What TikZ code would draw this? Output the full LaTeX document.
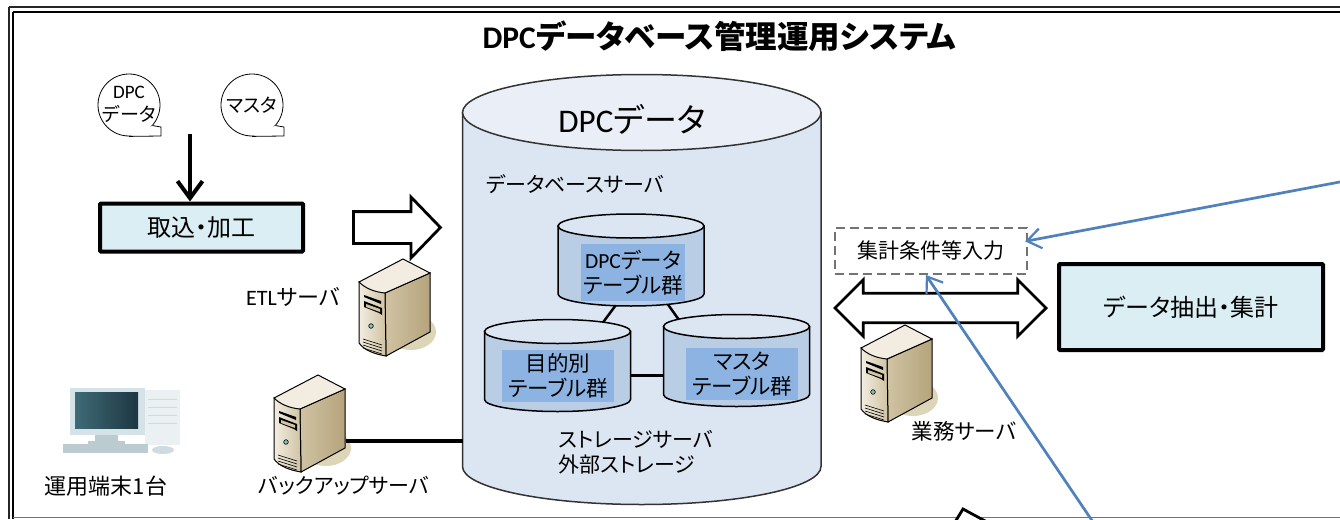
\documentclass[tikz,border=0pt]{standalone}
\usepackage{fontspec}
\setmainfont{Noto Sans CJK JP}[RawFeature={+palt}]
\newfontfamily\latn{Carlito}
\usetikzlibrary{positioning,calc,arrows.meta,shapes.arrows}

\definecolor{boxfill}{HTML}{DAEEF3}
\definecolor{dbbody}{HTML}{DCE6F2}
\definecolor{dbend}{HTML}{E9EEF7}
\definecolor{tblbody}{HTML}{B9CDE5}
\definecolor{tblend}{HTML}{DCE6F2}
\definecolor{tbllabel}{HTML}{8DB3E2}
\definecolor{linkblue}{HTML}{4F81BD}
\definecolor{srvshadow}{HTML}{DDD5B8}
\definecolor{srvpale}{HTML}{F2EDE0}
\definecolor{srvmid}{HTML}{D0C3A3}
\definecolor{srvdark}{HTML}{B5A47C}
\definecolor{pcframe}{HTML}{D5E3E8}
\definecolor{pctower}{HTML}{EBF1F3}
\definecolor{pcline}{HTML}{CFDBE0}
\definecolor{pcscreenA}{HTML}{3E6B76}
\definecolor{pcscreenB}{HTML}{1D3742}
\definecolor{pckeys}{HTML}{BCCBD0}

\newcommand{\dpc}{{\latn DPC}}
\newcommand{\tapetail}[1]{\draw[fill=white,line width=.8pt] (#1.-41) -- ($(#1.center)+(32,22)$) -- ($(#1.center)+(32,31)$) -- (#1.south);}
% name, x radius, y radius, body, end, line
\newcommand{\drum}[6]{
  \draw[#6,fill=#4] ($(#1.north west)+(0,#3)$) -- ($(#1.south west)+(0,-#3)$)
    arc[start angle=180,end angle=0,x radius=#2,y radius=#3] -- ($(#1.north east)+(0,#3)$) -- cycle;
  \draw[#6,fill=#5] ($(#1.north)+(0,#3)$) ellipse [x radius=#2,y radius=#3];
}

\tikzset{
  txt/.style={inner sep=0pt,font=\fontsize{21}{25}\selectfont,align=center},
  doctxt/.style={inner sep=0pt,align=center,font=\fontsize{19}{23}\selectfont},
  procbox/.style={draw,line width=4pt,fill=boxfill,rounded corners=1pt,inner sep=0pt,font=\fontsize{24}{28}\selectfont},
  tape/.style={circle,draw,line width=.8pt,fill=white,minimum size=62pt,inner sep=0pt},
  drumbase/.style={inner sep=0pt,outer sep=0pt,minimum width=146pt,minimum height=92pt},
  tbltxt/.style={fill=tbllabel,inner sep=0pt,align=center,font=\fontsize{21.5}{25}\selectfont},
  tbllink/.style={line width=2.5pt},
  wide/.style={draw,fill=white,inner sep=0pt,line width=2.8pt},
  bluelink/.style={draw=linkblue,line width=2.7pt,-{Straight Barb[length=14pt,width=20pt,line width=2.2pt]}},
  server/.pic={
    \fill[srvshadow] (52,50) ellipse (25 and 18);
    \draw[line width=1pt,left color=srvmid,middle color=srvpale,right color=srvdark] (26,11) -- (71,-9) -- (71,50) -- (27,74) -- cycle;
    \draw[line width=1pt,left color=srvpale,right color=srvmid] (0,0) -- (26,11) -- (27,74) .. controls (15,72) and (5,68) .. (0,61) -- cycle;
    \draw[line width=1pt,fill=srvpale] (0,0) -- (44,-23) -- (71,-9) -- (26,11) .. controls (15,10) and (6,6) .. (0,0) -- cycle;
    \fill (5,13) -- (22,19) -- (22,22) -- (5,15) -- cycle;
    \fill (5,19) -- (23,26) -- (23,33) -- (20,31) -- (5,25) -- cycle;
    \fill[srvmid] (7,22) -- (21,27) -- (21,30) -- (7,25) -- cycle;
    \draw[fill=teal!50!white,line width=.6pt] (12,44) circle (2.3);
    \foreach \v in {57,60,63,66}
      \draw[line width=.6pt] (4,\v) -- (23,{\v+6});
  }
}

\begin{document}
\begin{tikzpicture}[x=1pt,y=-1pt]
  \clip (0,0) rectangle (1340,519);
  \path[fill=white] (0,0) rectangle (1340,519);

  % outer frame
  \draw[black!85,line width=2pt] (9,7) -- (1400,7) (9,7) -- (9,519);
  \draw[line width=2pt] (13,12) -- (1400,12) (13,12) -- (13,519);
  \draw[black!55,line width=1pt] (13,517.5) -- (1340,517.5);
  \node (title) [inner sep=0pt,font=\fontsize{31.5}{36}\selectfont\bfseries] at (719.5,36) {{\latn\bfseries DPC}データベース管理運用システム};

  % source documents
  \node (dpcdoc) [tape] at (129,105) {};
  \tapetail{dpcdoc}
  \node (dpcdoctxt) [doctxt] at (129,104) {\dpc\\データ};
  \node (mstdoc) [tape] at (252,105) {};
  \tapetail{mstdoc}
  \node (mstdoctxt) [doctxt] at (252,105) {マスタ};

  % intake
  \node (intake) [procbox,minimum width=203pt,minimum height=48pt] at (201.5,227.5) {取込・加工};
  \coordinate (feed) at (190,134);
  \draw[line width=4.5pt,-{Straight Barb[length=17pt,width=25pt,line width=4pt]}] (feed) -- (feed |- intake.north);
  \node (toDb) [wide,single arrow,anchor=west,inner ysep=14.5pt,minimum height=87pt,single arrow head extend=14.5pt,single arrow tip angle=92,single arrow head indent=0pt] at (352,227.5) {};

  % database
  \node (db) [drumbase,minimum width=358.5pt,minimum height=430pt] at (641.75,289.5) {};
  \drum{db}{179.25}{38}{dbbody}{dbend}{draw=black!80,line width=1.5pt}
  \node (dbname) [inner sep=0pt,font=\fontsize{33}{38}\selectfont] at (632,119) {\dpc データ};
  \node (dbsrv) [txt] at (575,184) {データベースサーバ};
  \node (storage) [txt,align=left] at (636,452) {ストレージサーバ\\外部ストレージ};

  % table groups
  \node (tblDpc) [drumbase] at (631,260) {};
  \node (tblPurpose) [drumbase] at (557.5,365.5) {};
  \node (tblMaster) [drumbase] at (736.5,360.5) {};
  \path[draw,tbllink]
  ($(tblDpc.center)+(-4,30)$) edge ($(tblPurpose.center)+(32.5,-25.5)$)
  ($(tblDpc.center)+(26.6,30)$) edge ($(tblMaster.center)+(-46.7,-25.5)$)
  ($(tblPurpose.center)+(60,10.2)$) edge ($(tblMaster.center)+(-60,15.2)$);
  \drum{tblDpc}{73}{12}{tblbody}{tblend}{line width=1.5pt}
  \drum{tblPurpose}{73}{12}{tblbody}{tblend}{line width=1.5pt}
  \drum{tblMaster}{73}{12}{tblbody}{tblend}{line width=1.5pt}
  \node (tblDpcTxt) [tbltxt,minimum width=104pt,minimum height=57pt] at (633,272.5) {\dpc データ\\テーブル群};
  \node (tblPurposeTxt) [tbltxt,minimum width=112pt,minimum height=52pt] at (558,376) {目的別\\テーブル群};
  \node (tblMasterTxt) [tbltxt,minimum width=112pt,minimum height=52pt] at (742,374) {マスタ\\テーブル群};

  % servers
  \pic at (359,282) {server};
  \node (etl) [txt,font=\fontsize{22}{26}\selectfont] at (293,297) {{\latn ETL}サーバ};
  \pic at (274,398) {server};
  \node (backup) [txt] at (344,486) {バックアップサーバ};
  \coordinate (backupPort) at (345.5,441);
  \draw[line width=3.5pt] (backupPort) -- (backupPort -| db.west);
  \pic at (861,348) {server};
  \node (biz) [txt,font=\fontsize{21.5}{26}\selectfont] at (964,431) {業務サーバ};

  % terminal
  \path[fill=pctower] (145,390) rectangle (180,445);
  \foreach \v in {399,407,415,423}
    \draw[pcline,line width=.7pt] (148,\v) -- (177,\v);
  \path[fill=pcframe] (70,388) rectangle (145,435);
  \path[left color=pcscreenA,right color=pcscreenB] (75,392) rectangle (138,428);
  \path[fill=pckeys] (95,435) rectangle (118,441);
  \path[fill=pckeys] (88,441) rectangle (125,444);
  \path[fill=pckeys] (63,444) rectangle (148,453);
  \path[fill=pcline] (163,450) ellipse (11 and 4);
  \node (term) [txt,font=\fontsize{22}{26}\selectfont] at (106,486) {運用端末1台};

  % extraction
  \node (extract) [procbox,minimum width=264pt,minimum height=86pt] at (1191,307) {データ抽出・集計};
  \node (cond) [draw=black!55,dash pattern=on 9pt off 5pt,line width=2pt,fill=white,inner sep=0pt,minimum width=192pt,minimum height=46pt,font=\fontsize{21}{25}\selectfont] at (931,251) {集計条件等入力};
  \node (biDir) [wide,double arrow,inner ysep=13.4pt,minimum height=211pt,double arrow head extend=13.4pt,double arrow tip angle=90,double arrow head indent=0pt] at (940.5,308) {};
  \draw[wide] (955,522) -- (963,509) -- (987,522);

  % links
  \coordinate (remoteA) at (1345,181);
  \coordinate (remoteB) at (1093,522);
  \draw[bluelink,shorten >=-3pt] (remoteA) -- (cond.6);
  \draw[bluelink] (remoteB) -- (cond.258);
\end{tikzpicture}
\end{document}
